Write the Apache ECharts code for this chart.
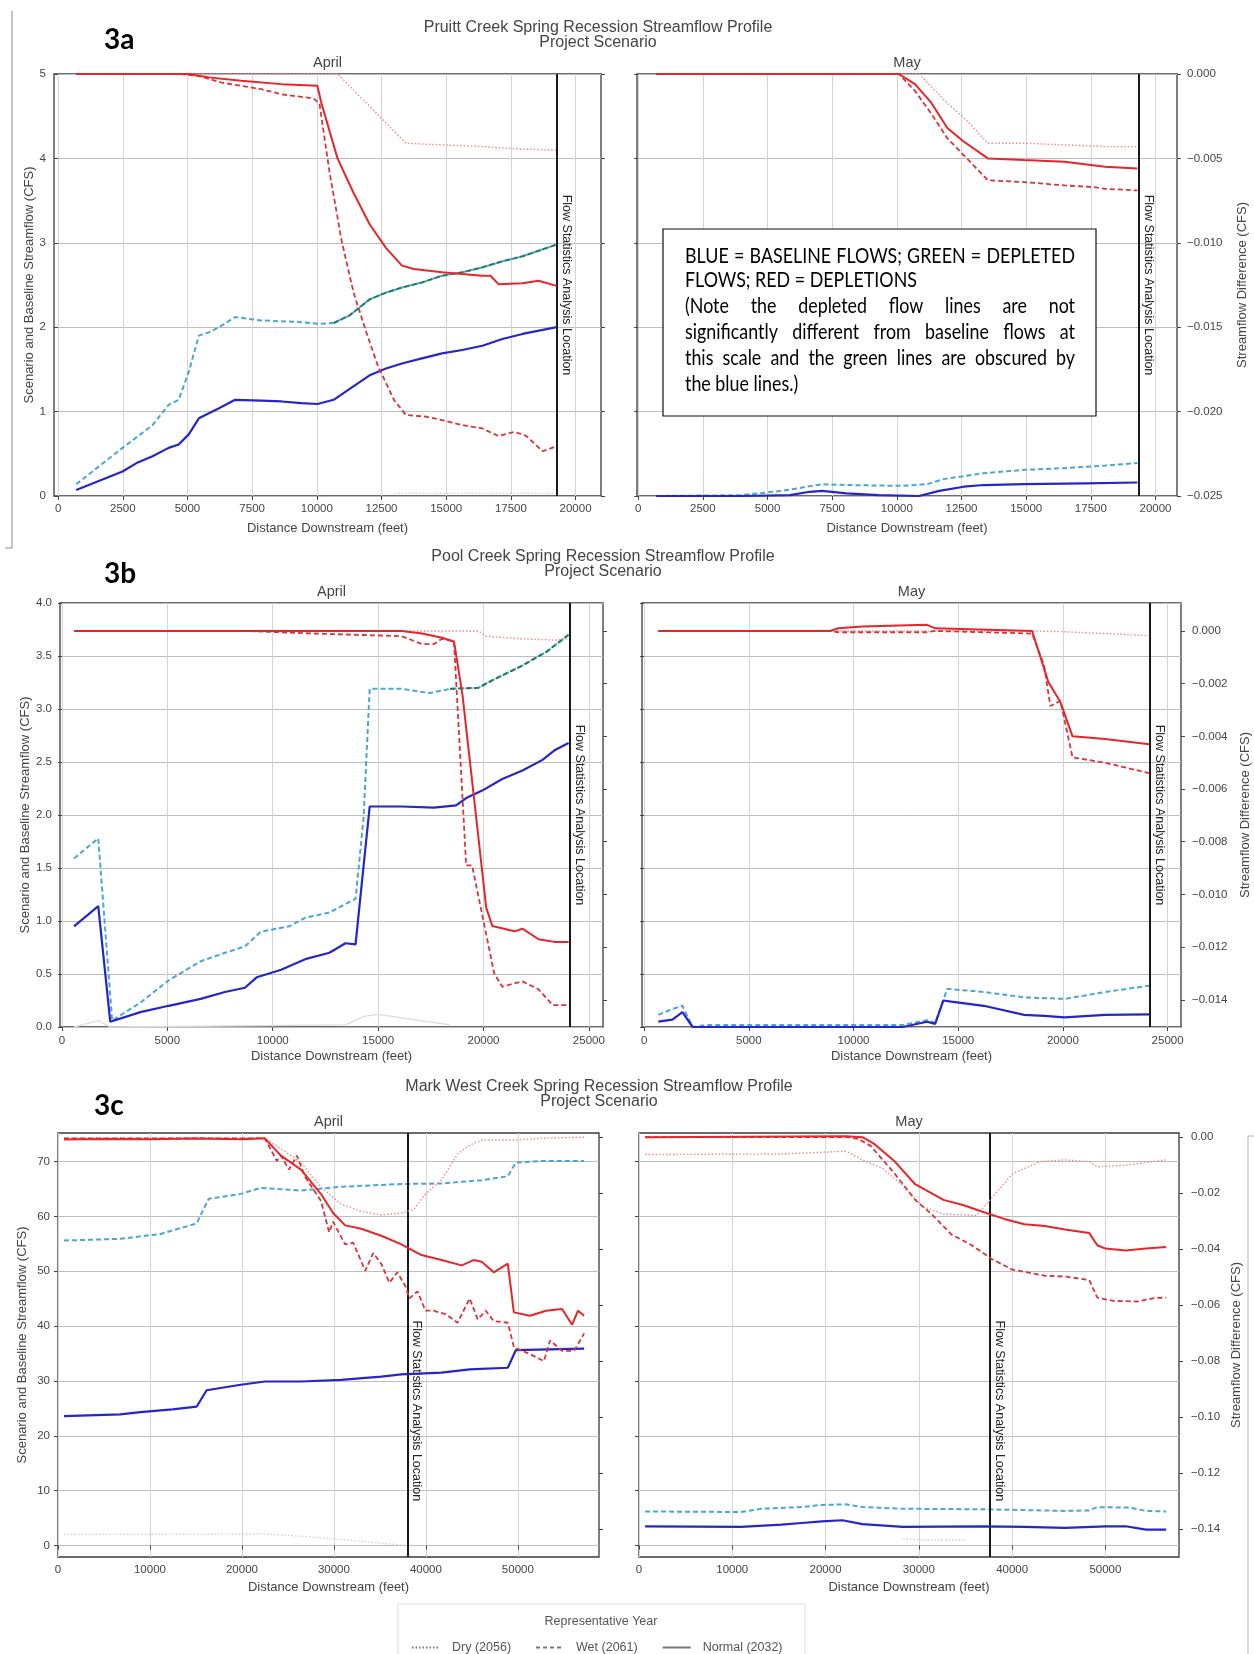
<!DOCTYPE html>
<html><head><meta charset="utf-8">
<script src="https://cdn.jsdelivr.net/npm/echarts@6/dist/echarts.min.js"></script>
<style>html,body{margin:0;padding:0;background:#fff}#c{width:1254px;height:1654px}</style>
</head><body><div id="c"></div>
<script>
// ---------------- tick labels ----------------
const ticksX_a = [0,2500,5000,7500,10000,12500,15000,17500,20000];
const ticksX_b = [0,5000,10000,15000,20000,25000];
const ticksX_c = [0,10000,20000,30000,40000,50000];
const ticksYL_a = [0,1,2,3,4,5];
const ticksYL_b = [0,0.5,1,1.5,2,2.5,3,3.5,4];
const ticksYL_c = [0,10,20,30,40,50,60,70];
const ticksYR_a = [-0.025,-0.02,-0.015,-0.01,-0.005,0];
const ticksYR_b = [-0.014,-0.012,-0.01,-0.008,-0.006,-0.004,-0.002,0];
const ticksYR_c = [-0.14,-0.12,-0.1,-0.08,-0.06,-0.04,-0.02,0];
const creeks = ['Pruitt Creek','Pool Creek','Mark West Creek'];
const months = ['April','May'];
const legendNames = ['Dry (2056)','Wet (2061)','Normal (2032)'];
// flow statistics analysis location (feet), per panel
const flowStatX = [19270,19350,24110,24170,37990,37620];

// ---------------- 3a Pruitt Creek ----------------
const pruittAprNormalBase = [[700,0.07],[2490,0.29],[3030,0.39],[3650,0.47],[4270,0.57],[4660,0.61],[5050,0.73],[5440,0.92],[5830,0.98],[6220,1.04],[6840,1.14],[7850,1.13],[8630,1.12],[9400,1.10],[10020,1.09],[10650,1.14],[11270,1.27],[12040,1.43],[12670,1.51],[13290,1.57],[14060,1.63],[14840,1.69],[15620,1.73],[16400,1.78],[17170,1.86],[17950,1.92],[19270,2.00]];
const pruittAprWetBase = [[700,0.14],[2490,0.57],[3650,0.84],[4270,1.08],[4660,1.14],[5050,1.47],[5440,1.90],[5830,1.94],[6220,2.00],[6840,2.12],[7850,2.08],[8630,2.07],[9400,2.06],[10020,2.04],[10650,2.05],[11270,2.14],[12040,2.33],[12670,2.41],[13290,2.47],[14060,2.53],[14840,2.61],[15620,2.65],[16400,2.71],[17170,2.78],[17950,2.84],[19270,2.98]];
const pruittAprWetDepl = [[10650,2.05],[11270,2.14],[12040,2.33],[12670,2.41],[13290,2.47],[14060,2.53],[14840,2.61],[15620,2.65],[16400,2.71],[17170,2.78],[17950,2.84],[19270,2.98]];
const pruittAprDryBase = [[13000,0.03],[19270,0.03]];
const pruittAprNormalDiff = [[700,0],[5050,0],[5830,-0.0002],[7070,-0.0004],[8630,-0.0006],[10020,-0.0007],[10180,-0.00175],[10800,-0.005],[11420,-0.00705],[12040,-0.0089],[12670,-0.0103],[13290,-0.01135],[13750,-0.01155],[14840,-0.01175],[15620,-0.01185],[16400,-0.01195],[16710,-0.01195],[17020,-0.01245],[17950,-0.0124],[18570,-0.01225],[19270,-0.01255]];
const pruittAprWetDiff = [[700,0],[4740,0],[5520,-0.00015],[6290,-0.0005],[7850,-0.0009],[8630,-0.0012],[9870,-0.00145],[10100,-0.00175],[10490,-0.0058],[10960,-0.0099],[11420,-0.01295],[11890,-0.0152],[12350,-0.01725],[12980,-0.0193],[13440,-0.0202],[14220,-0.0203],[14840,-0.0205],[15620,-0.0208],[16400,-0.021],[17020,-0.02145],[17640,-0.0212],[18100,-0.02145],[18730,-0.02235],[19270,-0.02205]];
const pruittAprDryDiff = [[700,0],[10800,0],[12100,-0.002],[13440,-0.0041],[14840,-0.0042],[16400,-0.0043],[17950,-0.00445],[19270,-0.0045]];
const pruittMayNormalBase = [[700,0],[3980,0],[5860,0.01],[6640,0.05],[7110,0.06],[8050,0.03],[9300,0.01],[10860,0],[11640,0.06],[12580,0.11],[13360,0.13],[14920,0.14],[17270,0.15],[19300,0.16]];
const pruittMayWetBase = [[700,0],[3980,0.01],[5550,0.06],[7110,0.14],[8050,0.13],[10230,0.12],[11170,0.14],[11800,0.20],[13360,0.27],[14920,0.31],[16480,0.33],[18050,0.36],[19300,0.39]];
const pruittMayNormalDiff = [[700,0],[10080,0],[10700,-0.0006],[11330,-0.0017],[11950,-0.0032],[12580,-0.004],[13520,-0.005],[14920,-0.0051],[16480,-0.0052],[18050,-0.0055],[19300,-0.0056]];
const pruittMayWetDiff = [[700,0],[10080,0],[10700,-0.001],[11330,-0.00235],[11950,-0.0038],[12580,-0.0048],[13520,-0.0063],[14920,-0.0064],[16480,-0.0066],[17580,-0.0067],[18050,-0.0068],[19300,-0.0069]];
const pruittMayDryDiff = [[700,0],[10860,0],[11800,-0.0015],[12730,-0.0028],[13520,-0.0041],[14920,-0.0041],[16480,-0.0042],[18050,-0.0043],[19300,-0.0043]];

// ---------------- 3b Pool Creek ----------------
const poolAprNormalBase = [[570,0.95],[1720,1.14],[2290,0.05],[3720,0.14],[5060,0.20],[6580,0.265],[7730,0.33],[8680,0.37],[9250,0.47],[10400,0.54],[11540,0.64],[12690,0.70],[13450,0.79],[13930,0.78],[14600,2.08],[16120,2.08],[17650,2.07],[18700,2.09],[19180,2.16],[19940,2.23],[20890,2.34],[21850,2.42],[22800,2.52],[23370,2.61],[24040,2.68]];
const poolAprWetBase = [[570,1.59],[1720,1.78],[2380,0.06],[3720,0.23],[5060,0.44],[6580,0.62],[7730,0.70],[8680,0.76],[9440,0.90],[10780,0.95],[11540,1.03],[12690,1.08],[13450,1.16],[13930,1.21],[14310,1.97],[14600,3.19],[16120,3.19],[17460,3.15],[18410,3.19],[19750,3.20],[20510,3.28],[21850,3.41],[22990,3.54],[24040,3.70]];
const poolAprWetDepl = [[18410,3.19],[19750,3.20],[20510,3.28],[21850,3.41],[22990,3.54],[24040,3.70]];
const poolAprDryBase = [[570,0.0],[1720,0.06],[2290,0.0],[13450,0.02],[14310,0.10],[15000,0.12],[17000,0.06],[18400,0.02]];
const poolAprNormalDiff = [[570,0],[16120,0],[17080,-0.0001],[18030,-0.00026],[18600,-0.0004],[19000,-0.0024],[19560,-0.0064],[20130,-0.0105],[20420,-0.0112],[21470,-0.0114],[21850,-0.0113],[22610,-0.0117],[23370,-0.0118],[24040,-0.0118]];
const poolAprWetDiff = [[570,0],[8680,0],[12000,-0.0001],[16120,-0.0002],[17080,-0.0005],[17650,-0.0005],[18030,-0.0003],[18600,-0.0004],[19180,-0.0089],[19460,-0.0089],[20510,-0.013],[20890,-0.0135],[21850,-0.0133],[22610,-0.0136],[23280,-0.0142],[24040,-0.0142]];
const poolAprDryDiff = [[570,0],[19750,0],[20130,-0.0002],[21850,-0.0003],[23370,-0.00035],[24040,-0.0003]];
const poolMayNormalBase = [[680,0.05],[1350,0.07],[1830,0.14],[2320,0.0],[12360,0.0],[13510,0.05],[13900,0.03],[14290,0.25],[14670,0.24],[16220,0.20],[18150,0.115],[19110,0.105],[20080,0.09],[22010,0.115],[24130,0.12]];
const poolMayWetBase = [[680,0.115],[1350,0.17],[1830,0.20],[2320,0.0],[3000,0.02],[12360,0.02],[13510,0.064],[13900,0.04],[14480,0.36],[16220,0.33],[18150,0.28],[20080,0.265],[22010,0.33],[24130,0.39]];
const poolMayNormalDiff = [[680,0],[8880,0],[9270,0.0001],[10430,0.00017],[13510,0.00023],[13900,0.0001],[18530,0],[19310,-0.00195],[19880,-0.0027],[20460,-0.004],[22010,-0.0041],[24130,-0.0043]];
const poolMayWetDiff = [[680,0],[8880,0],[9270,-0.00005],[13510,-0.00005],[13900,0],[18530,-0.0001],[19100,-0.0013],[19400,-0.00285],[19880,-0.00265],[20460,-0.0048],[22010,-0.005],[24130,-0.0054]];
const poolMayDryDiff = [[680,0],[18530,0],[20080,-0.00003],[22010,-0.0001],[24130,-0.00018]];

// ---------------- 3c Mark West Creek ----------------
const markAprNormalBase = [[650,23.6],[6770,23.9],[8950,24.3],[12450,24.8],[15070,25.3],[16160,28.3],[19870,29.3],[22490,29.9],[26420,29.9],[30790,30.2],[35150,30.8],[37340,31.2],[41700,31.5],[44760,32.1],[48910,32.4],[49780,35.6],[52190,35.7],[57210,35.9]];
const markAprWetBase = [[650,55.6],[6770,55.9],[11140,56.8],[15070,58.7],[16380,63.2],[19870,64.1],[22050,65.2],[26420,64.7],[30790,65.4],[37340,65.9],[41700,66.0],[46070,66.6],[48910,67.3],[49780,69.8],[52620,70.1],[57210,70.1]];
const markAprDryBase = [[650,2.0],[22490,2.1],[26420,1.7],[30790,1.1],[35150,0.4],[37340,0.1]];
const markAprNormalDiff = [[650,-0.0008],[5000,-0.0006],[10000,-0.0007],[15000,-0.0005],[20000,-0.0007],[22490,-0.0004],[24240,-0.0066],[26420,-0.0116],[28600,-0.0203],[29910,-0.0271],[31220,-0.0315],[32970,-0.0327],[35150,-0.0352],[37340,-0.0383],[39520,-0.0421],[41700,-0.0439],[43890,-0.0458],[45200,-0.0439],[46070,-0.0445],[47380,-0.0483],[48910,-0.0452],[49570,-0.0626],[51310,-0.0638],[53060,-0.0620],[54810,-0.0614],[55900,-0.0670],[56550,-0.0620],[57210,-0.0638]];
const markAprWetDiff = [[650,-0.0004],[22490,-0.0004],[23800,-0.0085],[24240,-0.0066],[25110,-0.0116],[25980,-0.0066],[26860,-0.0141],[28600,-0.0228],[29480,-0.034],[29910,-0.0302],[31220,-0.0383],[32100,-0.0377],[33410,-0.0477],[34280,-0.0414],[35150,-0.0452],[36030,-0.052],[36900,-0.0483],[37780,-0.0533],[38210,-0.0576],[39090,-0.0551],[39960,-0.062],[40830,-0.062],[42140,-0.0632],[43450,-0.0663],[44760,-0.0576],[45640,-0.0651],[46510,-0.062],[47380,-0.0657],[48910,-0.0663],[49570,-0.075],[50440,-0.0763],[51310,-0.0775],[52840,-0.08],[53500,-0.0726],[54810,-0.0763],[56120,-0.0763],[57210,-0.0701]];
const markAprDryDiff = [[650,-0.0004],[22490,-0.0004],[24240,-0.0041],[26420,-0.0091],[28600,-0.0178],[30790,-0.024],[32970,-0.0265],[35150,-0.0278],[37340,-0.0271],[38650,-0.0259],[39960,-0.0203],[41700,-0.0153],[43450,-0.006],[44760,-0.0029],[46070,-0.001],[49570,-0.001],[52620,-0.0004],[57210,0]];
const markMayNormalBase = [[650,3.5],[10940,3.4],[15280,3.8],[17450,4.1],[19620,4.4],[21790,4.6],[23960,3.9],[28300,3.4],[36980,3.5],[41320,3.4],[45660,3.2],[50000,3.5],[52170,3.5],[54340,2.9],[56510,2.9]];
const markMayWetBase = [[650,6.2],[10940,6.1],[13110,6.7],[17450,7.0],[19620,7.4],[22220,7.5],[23960,7.0],[28300,6.7],[36980,6.6],[45660,6.3],[48260,6.4],[49130,7.0],[52600,6.9],[54340,6.3],[56510,6.2]];
const markMayDryBase = [[28300,1.2],[31000,1.0],[35000,1.0]];
const markMayNormalDiff = [[650,0],[22220,0.0003],[23960,0],[25260,-0.0025],[27430,-0.0087],[29600,-0.0168],[32640,-0.0224],[34810,-0.0243],[36980,-0.0268],[39150,-0.0292],[41320,-0.0311],[43490,-0.0317],[45660,-0.033],[48260,-0.0342],[49130,-0.0386],[50000,-0.0398],[52170,-0.0405],[54340,-0.0398],[56510,-0.0392]];
const markMayWetDiff = [[650,0],[22220,0],[23520,-0.0006],[24830,-0.0031],[27430,-0.0131],[29600,-0.0224],[31340,-0.0274],[33510,-0.0348],[35680,-0.0386],[37850,-0.0436],[40020,-0.0473],[43490,-0.0495],[45660,-0.0498],[48260,-0.051],[49130,-0.0573],[50870,-0.0585],[53470,-0.0587],[55210,-0.0575],[56510,-0.0573]];
const markMayDryDiff = [[650,-0.0062],[15280,-0.006],[22220,-0.005],[23960,-0.0081],[26130,-0.0112],[28300,-0.0174],[30470,-0.0249],[32640,-0.0274],[36110,-0.028],[36980,-0.0249],[38280,-0.0199],[40020,-0.0131],[41320,-0.0112],[43050,-0.0087],[45660,-0.0081],[48260,-0.0087],[49130,-0.0106],[52170,-0.01],[56510,-0.0081]];

// ---------------- layout (pixels / axis extents) ----------------
const layout = [
  {left:54, top:74, width:547, height:422, x:[-159,20983], yl:[0,5], yr:[-0.025,0]},
  {left:637, top:74, width:540, height:422, x:[-46,20830], yl:[0,5], yr:[-0.025,0]},
  {left:60, top:603, width:543, height:424, x:[-95,25672], yl:[0,4], yr:[-0.01503,0.00106]},
  {left:642, top:603, width:539, height:424, x:[-100,25640], yl:[0,4], yr:[-0.01503,0.00106]},
  {left:58, top:1133, width:541, height:424, x:[0,58826], yl:[-2.1,75.2], yr:[-0.150,0.0015]},
  {left:639, top:1133, width:540, height:424, x:[0,57890], yl:[-2.1,75.2], yr:[-0.150,0.0015]}
];
const xNameGap = [26, 23, 24];
const xLabelMargin = [7, 8, 7];
const ylNameGap = [15, 27, 29];
const yrNameGap = [59, 58, 51];
const yrLabelMargin = [10, 11, 12];
const labelSpan = [null, null, [49.1, 0]];
const titleX = [598, 603, 599];
const titleY = [[28,43],[557,572],[1087,1102]];
const monthY = [63, 592, 1122];
const tagPos = [[104,40,'3a'],[104,574,'3b'],[94,1106,'3c']];

const FONT = 'Liberation Sans';
const TXT = '#444';
const FS_TICK = 11.5, FS_NAME = 13, FS_TITLE = 16, FS_MONTH = 14.5, FS_FLOW = 12.5;
const xT = [ticksX_a, ticksX_b, ticksX_c];
const yLT = [ticksYL_a, ticksYL_b, ticksYL_c];
const yRT = [ticksYR_a, ticksYR_b, ticksYR_c];
const fmtMinus = s => s.replace('-', '\u2212');
const yLF = [v => String(v), v => v.toFixed(1), v => String(v)];
const yRF = [v => fmtMinus(v.toFixed(3)), v => fmtMinus(v.toFixed(3)), v => fmtMinus(v.toFixed(2))];

const ST = {
  redN: {color:'#e5262b', width:2, type:'solid'},
  redW: {color:'#d8353a', width:1.8, type:[5,3]},
  redD: {color:'#ec8a90', width:1.4, type:[1.5,2]},
  blueN: {color:'#2626c6', width:2.2, type:'solid'},
  cyanW: {color:'#4aa6d6', width:2, type:[5,3]},
  greenW: {color:'#23785a', width:2, type:[5,3]},
  grayD: {color:'#cfcfcf', width:1.3, type:[1.5,2]},
  grayN: {color:'#dddddd', width:1.3, type:'solid'}
};

const grids = layout.map(l => ({left:l.left, top:l.top, width:l.width, height:l.height, show:true, borderColor:'#3a3a3a', borderWidth:1.3}));

const xAxes = layout.map((l, i) => {
  const r = Math.floor(i / 2);
  return {
    type:'value', gridIndex:i, min:l.x[0], max:l.x[1],
    name:'Distance Downstream (feet)', nameLocation:'middle', nameGap:xNameGap[r],
    nameTextStyle:{fontSize:FS_NAME, color:TXT, fontFamily:FONT},
    axisLine:{show:false},
    axisTick:{show:true, length:4, lineStyle:{color:'#444'}, customValues:xT[r]},
    axisLabel:{customValues:xT[r], formatter:v => String(v), fontSize:FS_TICK, color:TXT, fontFamily:FONT, margin:xLabelMargin[r]},
    splitLine:{show:true, lineStyle:{color:'#d4d4d4', width:1}}
  };
});

const yAxes = [];
layout.forEach((l, i) => {
  const r = Math.floor(i / 2), apr = i % 2 === 0;
  yAxes.push({
    type:'value', gridIndex:i, position:'left', min:l.yl[0], max:l.yl[1],
    name: apr ? 'Scenario and Baseline Streamflow (CFS)' : '', nameLocation:'middle', nameRotate:90, nameGap:ylNameGap[r],
    nameTextStyle:{fontSize:FS_NAME, color:TXT, fontFamily:FONT},
    axisLine:{show:false},
    axisTick:{show:true, length:4, lineStyle:{color:'#444'}, customValues:yLT[r]},
    axisLabel:{show:apr, customValues:yLT[r], formatter:yLF[r], fontSize:FS_TICK, color:TXT, fontFamily:FONT, margin:8},
    splitLine:{show:true, lineStyle:{color:'#bdbdbd', width:1}}
  });
  yAxes.push({
    type:'value', gridIndex:i, position:'right', min:l.yr[0], max:l.yr[1],
    name: apr ? '' : 'Streamflow Difference (CFS)', nameLocation:'middle', nameRotate:90, nameGap:yrNameGap[r],
    nameTextStyle:{fontSize:FS_NAME, color:TXT, fontFamily:FONT},
    axisLine:{show:false},
    axisTick:{show:true, length:4, lineStyle:{color:'#444'}, customValues:yRT[r]},
    axisLabel:{show:!apr, customValues:yRT[r], formatter:yRF[r], fontSize:FS_TICK, color:TXT, fontFamily:FONT, margin:yrLabelMargin[r]},
    splitLine:{show:false}
  });
});

function S(data, gi, side, style, z) {
  return {type:'line', data:data, xAxisIndex:gi, yAxisIndex:gi*2 + (side === 'R' ? 1 : 0),
    symbol:'none', showSymbol:false, clip:false, silent:true, animation:false,
    lineStyle:style, itemStyle:{color:style.color}, z:z, emphasis:{disabled:true}};
}
function flowMark(gi) {
  const l = layout[gi], r = Math.floor(gi / 2), fx = flowStatX[gi];
  const lab = {show:true, position:'insideMiddleTop', formatter:'Flow Statistics Analysis Location', fontSize:FS_FLOW, color:'#222', fontFamily:FONT, distance:3};
  const data = [];
  if (!labelSpan[r]) {
    data.push([{coord:[fx, l.yl[1]], label:lab}, {coord:[fx, l.yl[0]]}]);
  } else {
    data.push([{coord:[fx, l.yl[1]], label:{show:false}}, {coord:[fx, l.yl[0]]}]);
    data.push([{coord:[fx, labelSpan[r][0]], label:lab, lineStyle:{color:'rgba(0,0,0,0)', width:0}}, {coord:[fx, labelSpan[r][1]]}]);
  }
  return {silent:true, symbol:['none','none'], animation:false, lineStyle:{color:'#1a1a1a', width:2, type:'solid'}, label:{show:false}, data:data};
}

const panelSeries = [
  {dryB:pruittAprDryBase, wetB:pruittAprWetBase, wetD:pruittAprWetDepl, norB:pruittAprNormalBase, dryR:pruittAprDryDiff, wetR:pruittAprWetDiff, norR:pruittAprNormalDiff},
  {wetB:pruittMayWetBase, norB:pruittMayNormalBase, dryR:pruittMayDryDiff, wetR:pruittMayWetDiff, norR:pruittMayNormalDiff},
  {dryB:poolAprDryBase, wetB:poolAprWetBase, wetD:poolAprWetDepl, norB:poolAprNormalBase, dryR:poolAprDryDiff, wetR:poolAprWetDiff, norR:poolAprNormalDiff},
  {wetB:poolMayWetBase, norB:poolMayNormalBase, dryR:poolMayDryDiff, wetR:poolMayWetDiff, norR:poolMayNormalDiff},
  {dryB:markAprDryBase, wetB:markAprWetBase, norB:markAprNormalBase, dryR:markAprDryDiff, wetR:markAprWetDiff, norR:markAprNormalDiff},
  {dryB:markMayDryBase, wetB:markMayWetBase, norB:markMayNormalBase, dryR:markMayDryDiff, wetR:markMayWetDiff, norR:markMayNormalDiff}
];

const series = [];
panelSeries.forEach((p, gi) => {
  if (p.dryB) series.push(S(p.dryB, gi, 'L', gi === 2 ? ST.grayN : ST.grayD, 2));
  series.push(S(p.wetB, gi, 'L', ST.cyanW, 3));
  if (p.wetD) series.push(S(p.wetD, gi, 'L', ST.greenW, 4));
  const nb = S(p.norB, gi, 'L', ST.blueN, 5);
  nb.markLine = flowMark(gi);
  series.push(nb);
  series.push(S(p.dryR, gi, 'R', ST.redD, 6));
  series.push(S(p.wetR, gi, 'R', ST.redW, 7));
  series.push(S(p.norR, gi, 'R', ST.redN, 8));
});
// legend-only series (line style key)
const legendStyles = [{type:[1.5,2]}, {type:[4,3]}, {type:'solid'}];
legendNames.forEach((n, k) => {
  series.push({type:'line', name:n, data:[], xAxisIndex:0, yAxisIndex:0, symbol:'none',
    lineStyle:{color:'#777', width:1.3, type:legendStyles[k].type}, itemStyle:{color:'#777'}});
});

// ---------------- graphic text ----------------
const graphic = [];
creeks.forEach((c, r) => {
  graphic.push({type:'text', x:titleX[r], y:titleY[r][0], z:50, style:{text:c + ' Spring Recession Streamflow Profile', fontSize:FS_TITLE, fontFamily:FONT, fill:'#444', align:'center', verticalAlign:'middle'}});
  graphic.push({type:'text', x:titleX[r], y:titleY[r][1], z:50, style:{text:'Project Scenario', fontSize:FS_TITLE, fontFamily:FONT, fill:'#444', align:'center', verticalAlign:'middle'}});
  months.forEach((m, k) => {
    const l = layout[2*r + k];
    graphic.push({type:'text', x:l.left + l.width/2, y:monthY[r], z:50, style:{text:m, fontSize:FS_MONTH, fontFamily:FONT, fill:'#444', align:'center', verticalAlign:'middle'}});
  });
});
tagPos.forEach(t => graphic.push({type:'text', x:t[0], y:t[1], z:50, style:{text:t[2], fontSize:28, fontWeight:'bold', fontFamily:'Lato', fill:'#000', align:'left', verticalAlign:'middle'}}));
// page frame fragments of the source document
graphic.push({type:'polyline', z:1, shape:{points:[[12,11],[12,548],[5,548]]}, style:{stroke:'#8a8a8a', lineWidth:1, fill:null}});
graphic.push({type:'polyline', z:1, shape:{points:[[1254,1136],[1248,1136],[1248,1654]]}, style:{stroke:'#b5b5b5', lineWidth:1, fill:null}});
// legend frame + title
graphic.push({type:'rect', z:1, shape:{x:398, y:1604, width:407, height:60}, style:{fill:'none', stroke:'#dddddd', lineWidth:1}});
graphic.push({type:'text', x:601, y:1622, z:50, style:{text:'Representative Year', fontSize:12.5, fontFamily:FONT, fill:'#555', align:'center', verticalAlign:'middle'}});

// note box (justified text)
const noteLines = [
  ['BLUE = BASELINE FLOWS; GREEN = DEPLETED', true],
  ['FLOWS; RED = DEPLETIONS', false],
  ['(Note the depleted flow lines are not', true],
  ['significantly different from baseline flows at', true],
  ['this scale and the green lines are obscured by', true],
  ['the blue lines.)', false]
];
const noteCenters = [256, 280, 306.5, 332.3, 358.2, 384];
(function buildNote() {
  graphic.push({type:'rect', z:100, shape:{x:663, y:229, width:433, height:187}, style:{fill:'#fff', stroke:'#111', lineWidth:1.2}});
  const ctx = document.createElement('canvas').getContext('2d');
  const fs = 20.5, ff = 'Lato';
  ctx.font = fs + 'px ' + ff;
  const x0 = 685, W = 390;
  const natural = noteLines.map(l => ctx.measureText(l[0]).width);
  const s = Math.min(0.9, (W - 4) / Math.max.apply(null, natural));
  const sp = ctx.measureText(' ').width * s;
  noteLines.forEach((ln, k) => {
    const words = ln[0].split(' ');
    const ws = words.map(w => ctx.measureText(w).width * s);
    const total = ws.reduce((a, b) => a + b, 0);
    const gap = ln[1] && words.length > 1 ? (W - total) / (words.length - 1) : sp;
    let x = x0;
    words.forEach((w, j) => {
      graphic.push({type:'text', x:x, y:noteCenters[k], scaleX:s, z:101, style:{text:w, fontSize:fs, fontFamily:ff, fill:'#000', align:'left', verticalAlign:'middle'}});
      x += ws[j] + gap;
    });
  });
})();

const chart = echarts.init(document.getElementById('c'), null, {renderer:'canvas', width:1254, height:1654});
chart.setOption({
  backgroundColor:'#ffffff',
  animation:false,
  grid:grids,
  xAxis:xAxes,
  yAxis:yAxes,
  legend:{data:legendNames, left:406, top:1636, itemWidth:28, itemHeight:10, itemGap:24, selectedMode:false,
    itemStyle:{opacity:0},
    textStyle:{fontSize:12.5, color:'#555', fontFamily:FONT, padding:[0,0,0,7]}},
  graphic:graphic,
  series:series
});
</script>
</body></html>
